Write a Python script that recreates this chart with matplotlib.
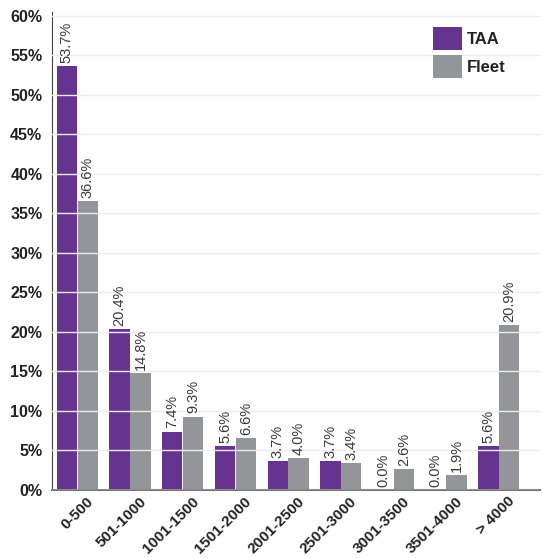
import matplotlib.pyplot as plt
import matplotlib.transforms as mtransforms
import numpy as np

plt.rcParams['font.family'] = ['Liberation Sans', 'DejaVu Sans']

categories = ['0-500', '501-1000', '1001-1500', '1501-2000', '2001-2500',
              '2501-3000', '3001-3500', '3501-4000', '> 4000']
taa = [53.7, 20.4, 7.4, 5.6, 3.7, 3.7, 0.0, 0.0, 5.6]
fleet = [36.6, 14.8, 9.3, 6.6, 4.0, 3.4, 2.6, 1.9, 20.9]

purple = '#663391'
gray = '#939598'

fig = plt.figure(figsize=(5.43, 5.58), dpi=100)
ax = fig.add_axes([52 / 543, 68 / 558, 488 / 543, 478 / 558])

x = np.arange(len(categories))
w = 0.385
b1 = ax.bar(x - w / 2 - 0.005, taa, width=w, color=purple, label='TAA', zorder=2)
b2 = ax.bar(x + w / 2 + 0.005, fleet, width=w, color=gray, label='Fleet', zorder=2)

# value labels, rotated
for bars, vals in ((b1, taa), (b2, fleet)):
    for rect, v in zip(bars, vals):
        ax.text(rect.get_x() + rect.get_width() / 2, v + 0.4, f'{v:.1f}%',
                rotation=90, ha='center', va='bottom', fontsize=10.5,
                color='#3a3a3a', zorder=4)

ax.set_ylim(0, 60.5)
ax.set_xlim(-0.48, 8.78)
yt = np.arange(0, 61, 5)
ax.set_yticks(yt)
ax.set_yticklabels([f'{v}%' for v in yt], fontsize=11.5, fontweight='bold',
                   color='#222222')
ax.set_xticks(x)
ax.set_xticklabels(categories, rotation=45, ha='right', rotation_mode='anchor',
                   fontsize=11, fontweight='bold', color='#222222')
ax.tick_params(axis='y', length=0, pad=7)
ax.tick_params(axis='x', length=0, pad=3)
shift = mtransforms.ScaledTranslation(9 / 100, 0, fig.dpi_scale_trans)
for lbl in ax.get_xticklabels():
    lbl.set_transform(lbl.get_transform() + shift)

ax.yaxis.grid(True, color='#ececec', linewidth=1.0, zorder=3)
ax.set_axisbelow(False)
for s in ('top', 'right'):
    ax.spines[s].set_visible(False)
ax.spines['left'].set_color('#444444')
ax.spines['bottom'].set_color('#777777')
ax.spines['bottom'].set_linewidth(1.5)

leg = ax.legend(loc='upper right', bbox_to_anchor=(0.93, 0.968), frameon=False,
                prop={'size': 12, 'weight': 'bold'}, handlelength=1.75,
                handleheight=1.75, labelspacing=0.3, handletextpad=0.3,
                borderpad=0, borderaxespad=0)
for t in leg.get_texts():
    t.set_color('#222222')

fig.savefig('out.png', dpi=100)
